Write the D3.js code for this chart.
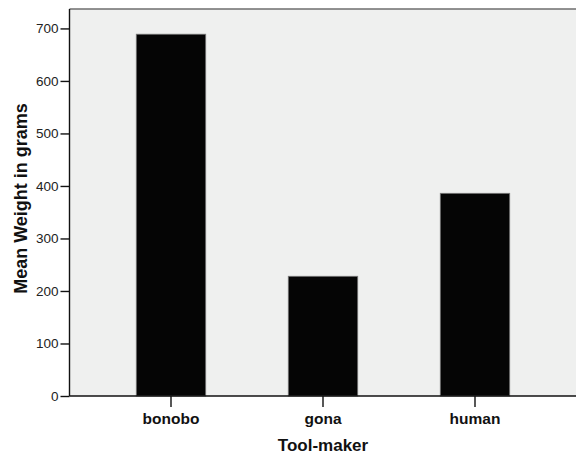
<!DOCTYPE html>
<html>
<head>
<meta charset="utf-8">
<script src="https://cdn.jsdelivr.net/npm/d3@7"></script>
<style>
  html, body { margin: 0; padding: 0; background: #fff; }
  svg { display: block; font-family: Arial, "Liberation Sans", Helvetica, sans-serif; }
</style>
</head>
<body>
<svg id="chart" width="576" height="455"></svg>
<script>
const categories = ["bonobo", "gona", "human"];
const meanWeights = [689, 228, 386];
const yTicks = [0, 100, 200, 300, 400, 500, 600, 700];
const xTitle = "Tool-maker";
const yTitle = "Mean Weight in grams";

const svg = d3.select("#chart");
const W = 576, H = 455;
const plot = { left: 69.5, top: 9, right: 576, bottom: 396 };

const x = d3.scaleBand()
  .domain(categories)
  .range([95, 551])
  .paddingInner(0.543)
  .paddingOuter(0.2715);

const y = d3.scaleLinear()
  .domain([0, 737])
  .range([plot.bottom, plot.top]);

// plot background
svg.append("rect")
  .attr("x", plot.left).attr("y", plot.top)
  .attr("width", plot.right - plot.left).attr("height", plot.bottom - plot.top)
  .attr("fill", "#eff0ef");

// top border
svg.append("line")
  .attr("x1", plot.left).attr("x2", plot.right)
  .attr("y1", plot.top).attr("y2", plot.top)
  .attr("stroke", "#6e6e6e").attr("stroke-width", 1.6);

// bars
svg.append("g").selectAll("rect")
  .data(categories)
  .join("rect")
  .attr("x", d => x(d))
  .attr("y", (d, i) => y(meanWeights[i]))
  .attr("width", x.bandwidth())
  .attr("height", (d, i) => y(0) - y(meanWeights[i]))
  .attr("fill", "#050505")
  .attr("stroke", "#7a7a7a")
  .attr("stroke-width", 0.8);

// y axis
const yAxis = svg.append("g")
  .attr("transform", `translate(${plot.left},0)`)
  .call(d3.axisLeft(y).tickValues(yTicks).tickSize(9).tickPadding(2).tickSizeOuter(0));
yAxis.select(".domain").attr("stroke", "#111").attr("stroke-width", 1.4)
  .attr("d", `M0,${plot.top}V${plot.bottom}`);
yAxis.selectAll(".tick line").attr("stroke", "#111").attr("stroke-width", 1.4);
yAxis.selectAll(".tick text")
  .attr("font-size", "13.5px").attr("fill", "#222")
  .attr("font-family", "Arial, 'Liberation Sans', sans-serif");

// x axis
const xAxis = svg.append("g")
  .attr("transform", `translate(0,${plot.bottom})`)
  .call(d3.axisBottom(x).tickSize(11).tickPadding(6).tickSizeOuter(0));
xAxis.select(".domain").attr("stroke", "#111").attr("stroke-width", 1.4)
  .attr("d", `M${plot.left},0H${plot.right}`);
xAxis.selectAll(".tick line").attr("stroke", "#111").attr("stroke-width", 1.4);
xAxis.selectAll(".tick text")
  .attr("font-size", "15.5px").attr("font-weight", "bold").attr("fill", "#111")
  .attr("font-family", "Arial, 'Liberation Sans', sans-serif");

// axis titles
svg.append("text")
  .attr("x", (plot.left + plot.right) / 2 - 0)
  .attr("x", 323)
  .attr("y", 451)
  .attr("text-anchor", "middle")
  .attr("font-size", "17px").attr("font-weight", "bold").attr("fill", "#111")
  .text(xTitle);

svg.append("text")
  .attr("transform", `translate(26.5,${(99 + 298) / 2}) rotate(-90)`)
  .attr("text-anchor", "middle")
  .attr("font-size", "18px").attr("font-weight", "bold").attr("fill", "#111")
  .text(yTitle);
</script>
</body>
</html>
